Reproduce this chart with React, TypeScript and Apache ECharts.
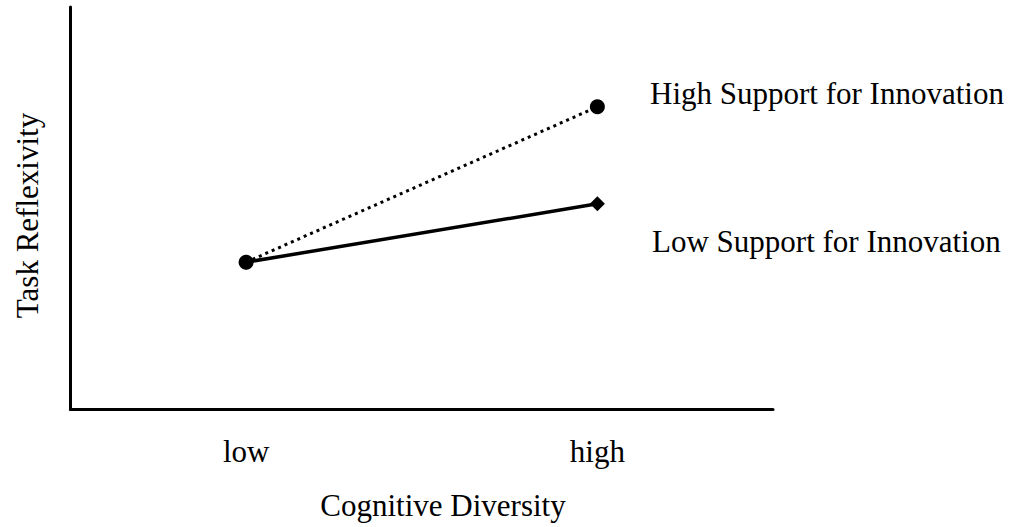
import React, { useEffect, useRef } from "react";
import * as echarts from "echarts";

const categories = ["low", "high"];
const highSupport = [36.6, 75.2];
const lowSupport = [36.6, 51.1];
const seriesNames = ["High Support for Innovation", "Low Support for Innovation"];
const xTitle = "Cognitive Diversity";
const yTitle = "Task Reflexivity";

const FONT = "'Liberation Serif', 'Times New Roman', serif";
const FS = 31;

export default function App() {
  const ref = useRef<HTMLDivElement>(null);
  useEffect(() => {
    if (!ref.current) return;
    const chart = echarts.init(ref.current, undefined, { renderer: "svg" });
    chart.setOption({
      animation: false,
      grid: { left: 70.5, right: 247, top: 7, bottom: 117.5 },
      xAxis: {
        type: "category",
        data: categories,
        boundaryGap: true,
        axisLine: { lineStyle: { color: "#000", width: 3 } },
        axisTick: { show: false },
        axisLabel: {
          color: "#000",
          fontFamily: FONT,
          fontSize: FS,
          margin: 42,
          verticalAlign: "middle",
        },
      },
      yAxis: {
        type: "value",
        min: 0,
        max: 100,
        axisLine: { show: true, lineStyle: { color: "#000", width: 3 } },
        axisTick: { show: false },
        axisLabel: { show: false },
        splitLine: { show: false },
      },
      series: [
        {
          name: seriesNames[1],
          type: "line",
          data: lowSupport,
          symbol: "diamond",
          symbolSize: 15,
          lineStyle: { color: "#000", width: 3.5, type: "solid" },
          itemStyle: { color: "#000" },
        },
        {
          name: seriesNames[0],
          type: "line",
          data: highSupport,
          symbol: "circle",
          symbolSize: 15,
          lineStyle: { color: "#000", width: 3, type: [3, 4] },
          itemStyle: { color: "#000" },
        },
      ],
      graphic: [
        {
          type: "text",
          x: 650,
          y: 93.5,
          style: {
            text: seriesNames[0],
            fontFamily: FONT,
            fontSize: FS,
            fill: "#000",
            align: "left",
            verticalAlign: "middle",
          },
        },
        {
          type: "text",
          x: 652,
          y: 241.5,
          style: {
            text: seriesNames[1],
            fontFamily: FONT,
            fontSize: FS,
            fill: "#000",
            align: "left",
            verticalAlign: "middle",
          },
        },
        {
          type: "text",
          x: 443,
          y: 505,
          style: {
            text: xTitle,
            fontFamily: FONT,
            fontSize: FS,
            fill: "#000",
            align: "center",
            verticalAlign: "middle",
          },
        },
        {
          type: "text",
          x: 27,
          y: 215.5,
          rotation: Math.PI / 2,
          style: {
            text: yTitle,
            fontFamily: FONT,
            fontSize: FS,
            fill: "#000",
            align: "center",
            verticalAlign: "middle",
          },
        },
      ],
    });
    return () => chart.dispose();
  }, []);
  return (
    <div
      ref={ref}
      style={{ position: "absolute", left: 0, top: 0, width: 1020, height: 527 }}
    />
  );
}
